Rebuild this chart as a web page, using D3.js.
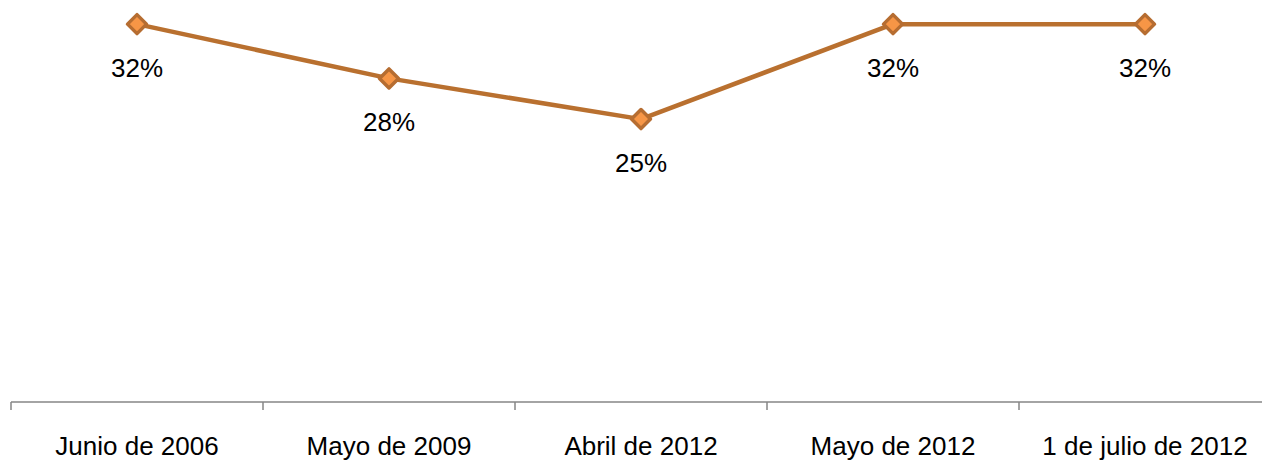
<!DOCTYPE html>
<html>
<head>
<meta charset="utf-8">
<script src="https://cdn.jsdelivr.net/npm/d3@7"></script>
<style>
  body { margin: 0; background: #fff; }
  text { font-family: "Liberation Sans", Arial, sans-serif; fill: #000; }
</style>
</head>
<body>
<div id="chart"></div>
<script>
// ── DATA ───────────────────────────────────────────────────────
const categories = ["Junio de 2006", "Mayo de 2009", "Abril de 2012", "Mayo de 2012", "1 de julio de 2012"];
const values     = [0.32, 0.28, 0.25, 0.32, 0.32];

// ── DIMENSIONS ─────────────────────────────────────────────────
const W = 1262, H = 460;
const axisY = 402;

const svg = d3.select("#chart")
  .append("svg")
    .attr("width", W)
    .attr("height", H);

// ── SCALES ─────────────────────────────────────────────────────
const x = d3.scaleBand().domain(categories).range([11, 1271]);
const y = d3.scaleLinear().domain([0.04, 0.34]).range([404, -3]);
const cx = d => x(d) + x.bandwidth() / 2;

// ── AXIS ───────────────────────────────────────────────────────
const axis = svg.append("g");
axis.append("line")
  .attr("x1", 11).attr("x2", W)
  .attr("y1", axisY).attr("y2", axisY)
  .attr("stroke", "#868686").attr("stroke-width", 1.5);

// tick marks at band boundaries
axis.selectAll(".tick")
  .data(categories)
  .join("line")
    .attr("class", "tick")
    .attr("x1", d => x(d)).attr("x2", d => x(d))
    .attr("y1", axisY).attr("y2", axisY + 8)
    .attr("stroke", "#868686").attr("stroke-width", 1.5);

axis.selectAll(".cat")
  .data(categories)
  .join("text")
    .attr("class", "cat")
    .attr("x", d => cx(d))
    .attr("y", 455)
    .attr("text-anchor", "middle")
    .attr("font-size", "26px")
    .text(d => d);

// ── LINE ───────────────────────────────────────────────────────
const pts = categories.map((c, i) => ({ c, v: values[i] }));

svg.append("path")
  .datum(pts)
  .attr("fill", "none")
  .attr("stroke", "#B9702F")
  .attr("stroke-width", 4.5)
  .attr("stroke-linejoin", "round")
  .attr("d", d3.line().x(d => cx(d.c)).y(d => y(d.v)));

// diamond markers
svg.selectAll(".marker")
  .data(pts)
  .join("path")
    .attr("class", "marker")
    .attr("transform", d => `translate(${cx(d.c)},${y(d.v)})`)
    .attr("d", d3.symbol(d3.symbolDiamond2, 230))
    .attr("fill", "#F79646")
    .attr("stroke", "#B66D31")
    .attr("stroke-width", 3.5)
    .attr("stroke-linejoin", "round");

// data labels
svg.selectAll(".lbl")
  .data(pts)
  .join("text")
    .attr("class", "lbl")
    .attr("x", d => cx(d.c))
    .attr("y", d => y(d.v) + 53)
    .attr("text-anchor", "middle")
    .attr("font-size", "26px")
    .text(d => d3.format(".0%")(d.v));
</script>
</body>
</html>
